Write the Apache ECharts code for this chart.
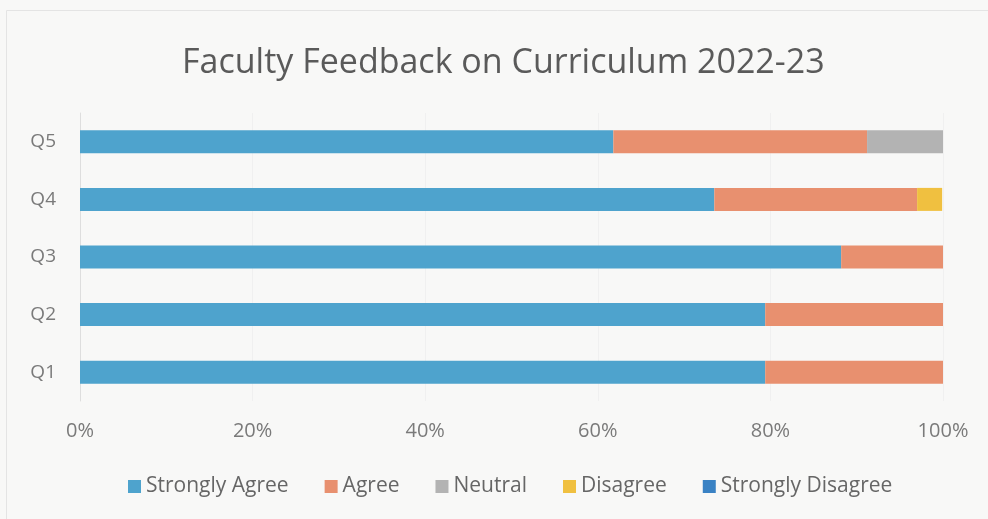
<!DOCTYPE html>
<html>
<head>
<meta charset="utf-8">
<script src="https://cdn.jsdelivr.net/npm/echarts@6/dist/echarts.min.js"></script>
<style>
html,body{margin:0;padding:0;background:#f8f8f7;}
#c{width:988px;height:519px;}
</style>
</head>
<body>
<div id="c"></div>
<script>
var categories = ['Q1', 'Q2', 'Q3', 'Q4', 'Q5'];
var seriesNames = ['Strongly Agree', 'Agree', 'Neutral', 'Disagree', 'Strongly Disagree'];
var stronglyAgree = [79.4, 79.4, 88.2, 73.5, 61.8];
var agree = [20.6, 20.6, 11.8, 23.5, 29.4];
var neutral = [0, 0, 0, 0, 8.8];
var disagree = [0, 0, 0, 2.9, 0];
var stronglyDisagree = [0, 0, 0, 0, 0];
var tickLabels = ['0%', '20%', '40%', '60%', '80%', '100%'];

var colors = ['#4ea3cd', '#e8906f', '#b3b3b3', '#f0c040', '#3a82c4'];
var values = [stronglyAgree, agree, neutral, disagree, stronglyDisagree];
var font = 'Open Sans';

var chart = echarts.init(document.getElementById('c'));
chart.setOption({
  backgroundColor: '#f8f8f7',
  animation: false,
  graphic: [{
    type: 'rect',
    shape: { x: 6.5, y: 10.5, width: 1000, height: 1000 },
    style: { fill: 'none', stroke: '#e4e4e4', lineWidth: 1 },
    silent: true
  }],
  title: {
    text: 'Faculty Feedback on Curriculum 2022-23',
    left: 177,
    top: 41,
    textStyle: { fontFamily: font, fontSize: 34, fontWeight: 'normal', color: '#5a5a5a' }
  },
  grid: { left: 80, right: 45, top: 113, bottom: 118 },
  legend: {
    bottom: 17,
    left: 123,
    itemWidth: 13,
    itemHeight: 13,
    itemGap: 36,
    icon: 'rect',
    textStyle: { fontFamily: font, fontSize: 21, color: '#666', padding: [0, 0, 0, 0] },
    data: seriesNames
  },
  xAxis: {
    type: 'value',
    min: 0,
    max: 100,
    interval: 20,
    axisLine: { show: false },
    axisTick: { show: false },
    splitLine: { show: true, lineStyle: { color: '#f0f0f0', width: 1 } },
    axisLabel: {
      fontFamily: font, fontSize: 20, color: '#7a7a7a', margin: 20,
      formatter: function (v) { return tickLabels[Math.round(v / 20)]; }
    }
  },
  yAxis: {
    type: 'category',
    data: categories,
    axisLine: { show: true, lineStyle: { color: '#dedede' } },
    axisTick: { show: false },
    axisLabel: { fontFamily: font, fontSize: 19, color: '#7a7a7a', margin: 24 }
  },
  series: seriesNames.map(function (n, i) {
    return {
      name: n,
      type: 'bar',
      stack: 'total',
      barWidth: 23,
      itemStyle: { color: colors[i] },
      data: values[i]
    };
  })
});
</script>
</body>
</html>
